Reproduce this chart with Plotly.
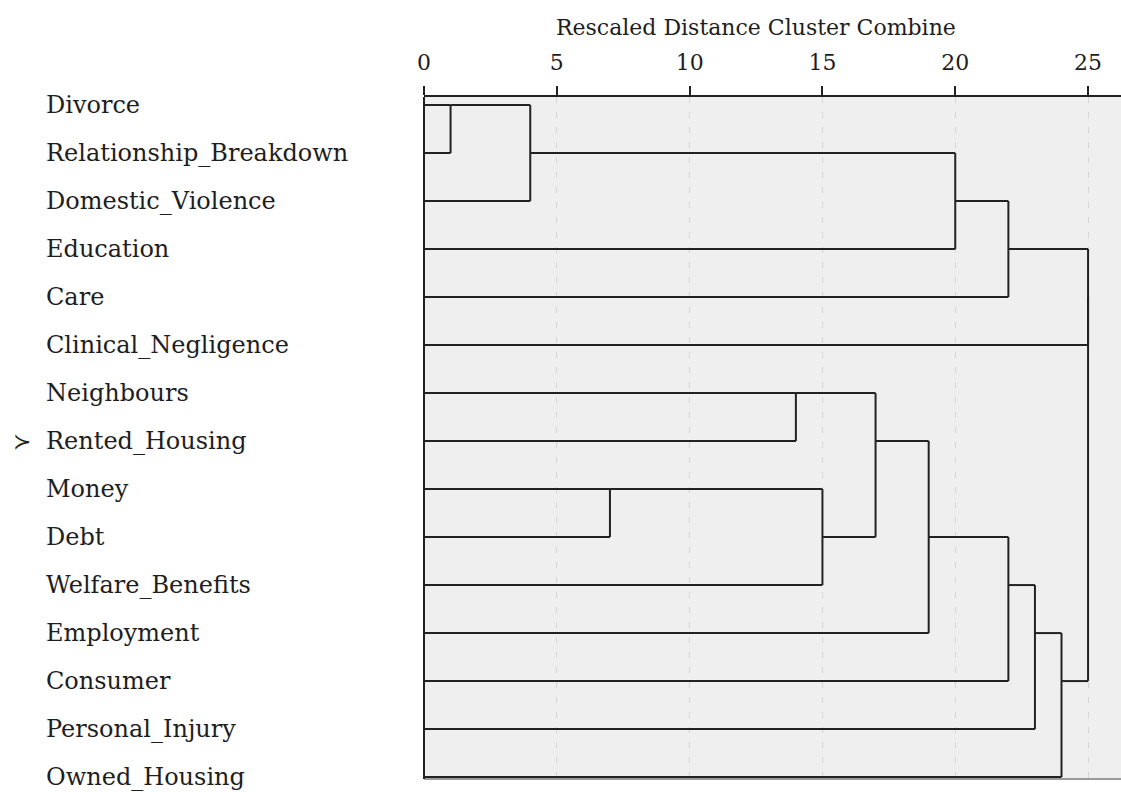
import plotly.graph_objects as go

# Leaf labels, top to bottom
labels = [
    "Divorce", "Relationship_Breakdown", "Domestic_Violence", "Education", "Care",
    "Clinical_Negligence", "Neighbours", "Rented_Housing", "Money", "Debt",
    "Welfare_Benefits", "Employment", "Consumer", "Personal_Injury", "Owned_Housing",
]

# Agglomeration schedule: clusters joined at each step (leaves are 0..14,
# step k creates cluster 15+k) and the rescaled distance of the join
join_a = [0, 15, 16, 17, 6, 8, 20, 19, 22, 23, 24, 25, 18, 27]
join_b = [1, 2, 3, 4, 7, 9, 10, 21, 11, 12, 13, 14, 5, 26]
join_h = [1, 4, 20, 22, 14, 7, 15, 17, 19, 22, 23, 24, 25, 25]

ticks = [0, 5, 10, 15, 20, 25]
marked_leaf = "Rented_Housing"

n = len(labels)
row = {i: i + 1 for i in range(n)}
height = {i: 0 for i in range(n)}

xs, ys = [], []
for k, (a, b, h) in enumerate(zip(join_a, join_b, join_h)):
    for c in (a, b):
        xs += [height[c], h, None]
        ys += [row[c], row[c], None]
    xs += [h, h, None]
    ys += [row[a], row[b], None]
    new = n + k
    row[new] = (row[a] + row[b]) // 2
    height[new] = h

font_family = "DejaVu Serif"
ink = "#222222"
text_col = "#1e1e1e"

fig = go.Figure()
fig.add_trace(go.Scatter(
    x=xs, y=ys, mode="lines",
    line=dict(color=ink, width=2),
    hoverinfo="skip", showlegend=False,
))

annotations = []
for i, name in enumerate(labels):
    annotations.append(dict(
        x=-0.5445, xref="paper", y=i + 1, yref="y",
        text=name, showarrow=False, xanchor="left", yanchor="middle",
        font=dict(family=font_family, size=24, color=text_col),
    ))
annotations.append(dict(
    x=-0.561, xref="paper", y=labels.index(marked_leaf) + 1, yref="y",
    text="≻", showarrow=False, xanchor="right", yanchor="middle",
    font=dict(family="DejaVu Sans", size=22, color=text_col),
))
annotations.append(dict(
    x=12.5, xref="x", y=1, yref="paper", yshift=70,
    text="Rescaled Distance Cluster Combine", showarrow=False,
    xanchor="center", yanchor="middle",
    font=dict(family=font_family, size=22, color=text_col),
))

fig.update_layout(
    width=1121, height=792,
    margin=dict(l=424, r=0, t=97, b=13),
    paper_bgcolor="white",
    plot_bgcolor="#efefef",
    annotations=annotations,
    xaxis=dict(
        side="top", range=[0, 26.24], tickvals=ticks,
        ticktext=[str(t) for t in ticks],
        ticks="outside", ticklen=9, tickwidth=2, tickcolor=ink,
        ticklabelstandoff=7,
        tickfont=dict(family=font_family, size=22, color=text_col),
        showline=True, linecolor=ink, linewidth=2, mirror=False,
        showgrid=True, gridcolor="#d4d4d4", gridwidth=1, griddash="6px,9px",
        zeroline=False, fixedrange=True,
    ),
    yaxis=dict(
        range=[15.04, 0.833], showticklabels=False, ticks="",
        showgrid=False, zeroline=False, showline=False, fixedrange=True,
    ),
    shapes=[
        dict(type="line", xref="paper", yref="paper", x0=0, x1=1, y0=0, y1=0,
             line=dict(color="#9a9a9a", width=2)),
        dict(type="line", xref="paper", yref="paper", x0=0, x1=0, y0=0, y1=1,
             line=dict(color=ink, width=2)),
    ],
)

fig.write_html("out.html")
